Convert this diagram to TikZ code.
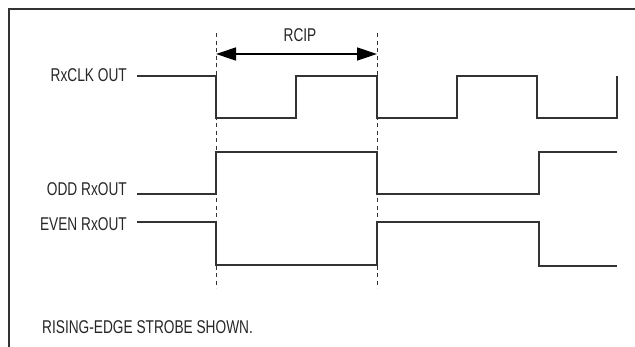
\documentclass[tikz,border=0pt]{standalone}
\usepackage{fontspec}
\setmainfont{Liberation Sans}[FakeStretch=0.74]
\usetikzlibrary{arrows.meta}
\begin{document}
\begin{tikzpicture}[x=1pt,y=-1pt,
  lbl/.style={inner sep=0pt,font=\fontsize{18.5}{18.5}\selectfont,text=black!85},
  wave/.style={line width=1.4pt,black!80,line join=miter},
  guide/.style={line width=1pt,black!80,dash pattern=on 4pt off 3.5pt},
  frame/.style={line width=2pt,black!80}]
\useasboundingbox (0,0) rectangle (635,346);
% frame (cropped)
\draw[frame] (9,360) -- (9,9) -- (650,9);
% guides
\coordinate (g1t) at (216,33); \coordinate (g1b) at (216,288);
\coordinate (g2t) at (377,33); \coordinate (g2b) at (377,288);
\draw[guide] (g1t) -- (g1b);
\draw[guide] (g2t) -- (g2b);
% RCIP arrow
\coordinate (a1) at (216,54); \coordinate (a2) at (377,54);
\draw[line width=1.4pt,{Triangle[length=20pt,width=13pt]}-{Triangle[length=20pt,width=13pt]}] (a1) -- (a2);
\node[lbl] (rcip) at (300,35) {RCIP};
% labels
\node[lbl,anchor=east] (clk) at (127,75.5) {RxCLK OUT};
\node[lbl,anchor=east] (odd) at (127,189.5) {ODD RxOUT};
\node[lbl,anchor=east] (even) at (127,224.5) {EVEN RxOUT};
\node[lbl,anchor=west] (note) at (42,327) {RISING-EDGE STROBE SHOWN.};
% RxCLK
\draw[wave] (137,76) -- (216,76) -- (216,118) -- (296,118) -- (296,76) -- (377,76) -- (377,118)
  -- (457,118) -- (457,76) -- (537,76) -- (537,118) -- (617,118) -- (617,76);
% ODD
\draw[wave] (137,194) -- (216,194) -- (216,152) -- (377,152) -- (377,194) -- (539,194) -- (539,152) -- (617,152);
% EVEN
\draw[wave] (137,222) -- (216,222) -- (216,265) -- (377,265) -- (377,222) -- (539,222) -- (539,266) -- (617,266);
\end{tikzpicture}
\end{document}
